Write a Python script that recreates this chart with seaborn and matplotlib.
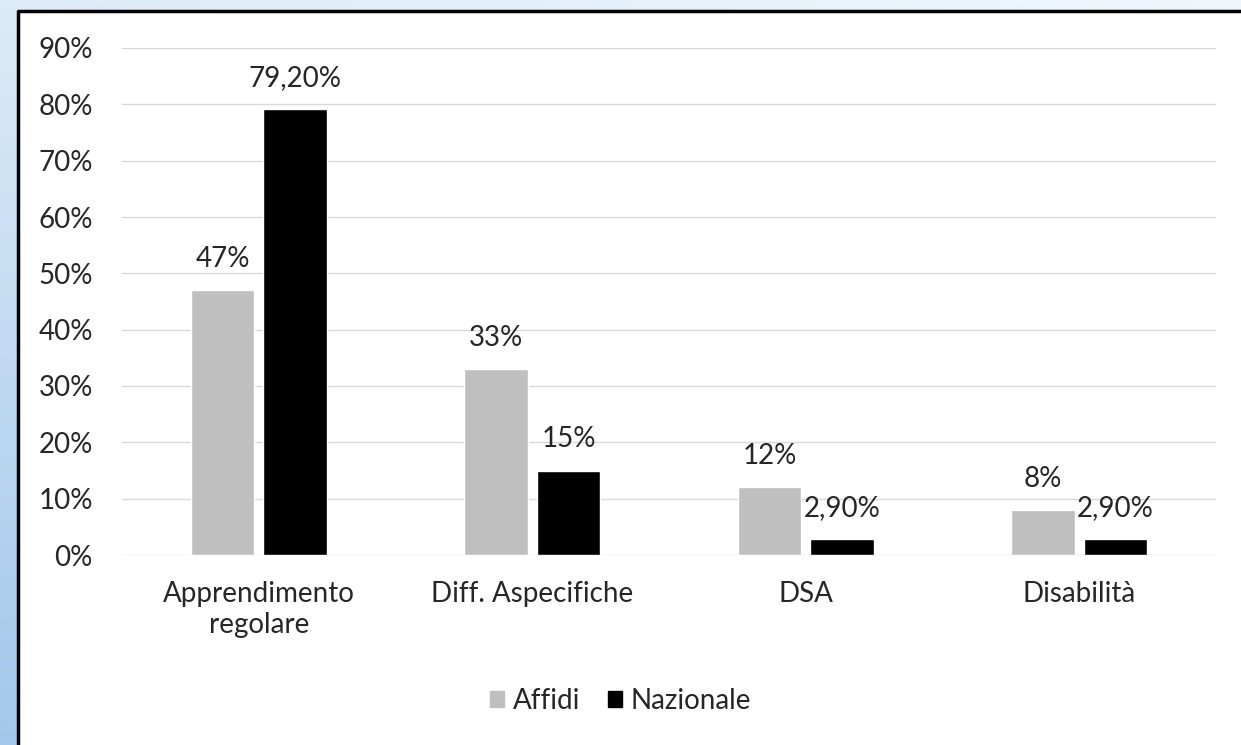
import numpy as np
import pandas as pd
import matplotlib
matplotlib.use("Agg")
import matplotlib.pyplot as plt
from matplotlib.patches import Rectangle
from matplotlib.lines import Line2D
from matplotlib.ticker import FuncFormatter
import seaborn as sns

# data
categories = ["Apprendimento\nregolare", "Diff. Aspecifiche", "DSA", "Disabilità"]
series = ["Affidi", "Nazionale"]
affidi = [47, 33, 12, 8]
nazionale = [79.2, 15, 2.9, 2.9]
affidi_labels = ["47%", "33%", "12%", "8%"]
nazionale_labels = ["79,20%", "15%", "2,90%", "2,90%"]
colors = ["#bfbfbf", "#000000"]

df = pd.DataFrame({
    "cat": categories * 2,
    "serie": [series[0]] * 4 + [series[1]] * 4,
    "val": affidi + nazionale,
})

sns.set_theme(style="white")
plt.rcParams["font.family"] = ["Lato", "DejaVu Sans"]
FS = 20
TXT = "#262626"

fig = plt.figure(figsize=(12.41, 7.45), dpi=100)

# blue gradient background behind the white chart box
bg = fig.add_axes([0, 0, 1, 1], zorder=-10)
yy, xx = np.mgrid[0:1:200j, 0:1:200j]
light = np.array([0.94, 0.97, 0.99])
dark = np.array([0.64, 0.78, 0.92])
t = np.clip(0.75 * yy + 0.25 * (1 - xx), 0, 1)[..., None]
img = light * (1 - t) + dark * t
bg.imshow(img, extent=[0, 1, 0, 1], aspect="auto", origin="upper")
bg.axis("off")

# white box, open to the right and bottom edges; black border on left and top only
x0 = 17.5 / 1241
y1 = 1 - 10.5 / 745
fig.add_artist(Rectangle((x0, 0), 1 - x0, y1, transform=fig.transFigure,
                         facecolor="white", edgecolor="none", zorder=-5))
fig.add_artist(Line2D([x0, x0, 1], [0, y1, y1], transform=fig.transFigure,
                      color="black", linewidth=2.5, zorder=-4))

ax = fig.add_axes([122 / 1241, 1 - 555 / 745, (1216 - 122) / 1241, (555 - 48) / 745])
sns.barplot(data=df, x="cat", y="val", hue="serie", palette=colors,
            width=0.53, gap=0.13, saturation=1, ax=ax, legend=False)

ax.set_ylim(0, 90)
ax.set_xlim(-0.5, 3.5)
ax.set_yticks(range(0, 91, 10))
ax.yaxis.set_major_formatter(FuncFormatter(lambda v, p: f"{int(v)}%"))
ax.grid(axis="y", color="#d9d9d9", linewidth=1)
ax.set_axisbelow(True)
for s in ax.spines.values():
    s.set_visible(False)
ax.set_xlabel("")
ax.set_ylabel("")
ax.tick_params(axis="y", labelsize=FS, pad=21, colors=TXT, length=0)
ax.tick_params(axis="x", labelsize=FS, pad=19, colors=TXT, length=0)
ax.patch.set_alpha(0)

ax.bar_label(ax.containers[0], labels=affidi_labels, padding=13, fontsize=FS, color=TXT)
ax.bar_label(ax.containers[1], labels=nazionale_labels, padding=13, fontsize=FS, color=TXT)

handles = [Rectangle((0, 0), 1, 1, color=c) for c in colors]
fig.legend(handles, series, loc="center", bbox_to_anchor=(0.5, 1 - 701 / 745), ncol=2,
           frameon=False, fontsize=FS, handlelength=0.5, handleheight=0.5,
           handletextpad=0.3, columnspacing=1.0, labelcolor=TXT)

fig.savefig("out.png", dpi=100)
